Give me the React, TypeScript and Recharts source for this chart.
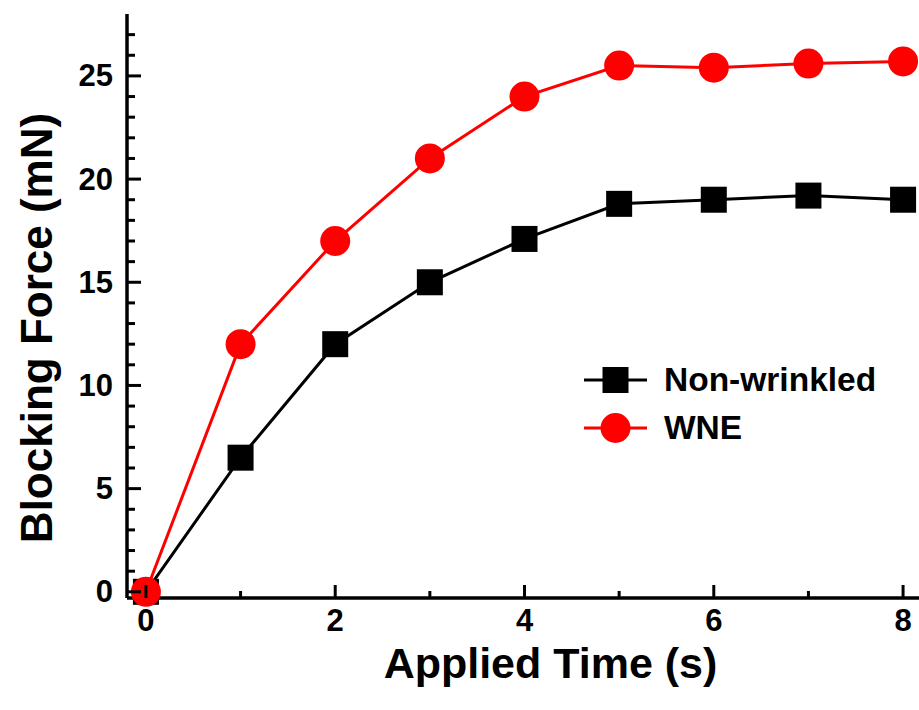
import { LineChart, Line, XAxis, YAxis, Label } from "recharts";

const times = [0, 1, 2, 3, 4, 5, 6, 7, 8];
const nonWrinkled = [0, 6.5, 12, 15, 17.1, 18.8, 19, 19.2, 19];
const wne = [0, 12, 17, 21, 24, 25.5, 25.4, 25.6, 25.7];

const xTicks = [0, 1, 2, 3, 4, 5, 6, 7, 8];
const yTicks = [
  0, 1, 2, 3, 4, 5, 6, 7, 8, 9, 10, 11, 12, 13, 14, 15, 16, 17, 18, 19, 20,
  21, 22, 23, 24, 25, 26, 27,
];

const data = times.map((t, i) => ({ t, nonWrinkled: nonWrinkled[i], wne: wne[i] }));

const FONT = "'Liberation Sans', Arial, sans-serif";

function YTick(props: any) {
  const { x, y, payload } = props;
  const major = payload.value % 5 === 0;
  return (
    <g>
      <line x1={x} x2={x + (major ? 14 : 8)} y1={y} y2={y} stroke="#000" strokeWidth={3} />
      {major && (
        <text
          x={x - 14}
          y={y}
          textAnchor="end"
          dominantBaseline="central"
          fontFamily={FONT}
          fontWeight="bold"
          fontSize={31}
          fill="#000"
        >
          {payload.value}
        </text>
      )}
    </g>
  );
}

function XTick(props: any) {
  const { x, y, payload } = props;
  const major = payload.value % 2 === 0;
  return (
    <g>
      <line x1={x} x2={x} y1={y} y2={y - (major ? 13 : 7)} stroke="#000" strokeWidth={3} />
      {major && (
        <text
          x={x}
          y={y + 22}
          textAnchor="middle"
          dominantBaseline="central"
          fontFamily={FONT}
          fontWeight="bold"
          fontSize={31}
          fill="#000"
        >
          {payload.value}
        </text>
      )}
    </g>
  );
}

function SquareDot(props: any) {
  const { cx, cy } = props;
  if (cx == null || cy == null) return null;
  return <rect x={cx - 13} y={cy - 13} width={26} height={26} fill="#000" />;
}

const legendItems = [
  { name: "Non-wrinkled", color: "#000", shape: "square" },
  { name: "WNE", color: "#ff0000", shape: "circle" },
];

function ChartLegend() {
  return (
    <div style={{ position: "absolute", left: 583, top: 356, fontFamily: FONT }}>
      {legendItems.map((it) => (
        <div key={it.name} style={{ display: "flex", alignItems: "center", height: 48 }}>
          <svg width={66} height={32} style={{ display: "block" }}>
            <line x1={1} x2={64} y1={16} y2={16} stroke={it.color} strokeWidth={3} />
            {it.shape === "square" ? (
              <rect x={19.5} y={3} width={26} height={26} fill={it.color} />
            ) : (
              <circle cx={32.5} cy={16} r={15} fill={it.color} />
            )}
          </svg>
          <span style={{ marginLeft: 15, fontSize: 33.5, fontWeight: "bold", color: "#000" }}>
            {it.name}
          </span>
        </div>
      ))}
    </div>
  );
}

export default function App() {
  return (
    <div
      style={{
        position: "absolute",
        left: 0,
        top: 0,
        width: 919,
        height: 710,
        overflow: "hidden",
        background: "#fff",
      }}
    >
      <LineChart
        width={930}
        height={710}
        data={data}
        margin={{ top: 14, right: 8, left: 0, bottom: 0 }}
      >
        <XAxis
          dataKey="t"
          type="number"
          domain={[-0.2, 8.2]}
          ticks={xTicks}
          interval={0}
          height={112}
          tickSize={0}
          tickMargin={0}
          tickLine={false}
          tick={<XTick />}
          axisLine={{ stroke: "#000", strokeWidth: 3.5 }}
        >
          <Label
            value="Applied Time (s)"
            position="center"
            dx={26}
            dy={9}
            style={{ fontFamily: FONT, fontWeight: "bold", fontSize: 43, fill: "#000" }}
          />
        </XAxis>
        <XAxis
          xAxisId="top"
          orientation="top"
          dataKey="t"
          type="number"
          domain={[-0.2, 8.2]}
          height={0}
          tick={false}
          tickLine={false}
          axisLine={{ stroke: "#000", strokeWidth: 3.5 }}
        />
        <YAxis
          type="number"
          domain={[-0.3, 28]}
          ticks={yTicks}
          interval={0}
          width={127}
          tickSize={0}
          tickMargin={0}
          tickLine={false}
          tick={<YTick />}
          axisLine={{ stroke: "#000", strokeWidth: 3.5 }}
        >
          <Label
            value="Blocking Force (mN)"
            position="center"
            angle={-90}
            dx={-27}
            dy={22}
            style={{ fontFamily: FONT, fontWeight: "bold", fontSize: 44, fill: "#000", textAnchor: "middle" }}
          />
        </YAxis>
        <Line
          type="linear"
          dataKey="nonWrinkled"
          stroke="#000"
          strokeWidth={3}
          dot={<SquareDot />}
          activeDot={false}
          isAnimationActive={false}
        />
        <Line
          type="linear"
          dataKey="wne"
          stroke="#ff0000"
          strokeWidth={3}
          dot={{ r: 15, fill: "#ff0000", stroke: "#ff0000", strokeWidth: 0 }}
          activeDot={false}
          isAnimationActive={false}
        />
      </LineChart>
      <ChartLegend />
    </div>
  );
}
